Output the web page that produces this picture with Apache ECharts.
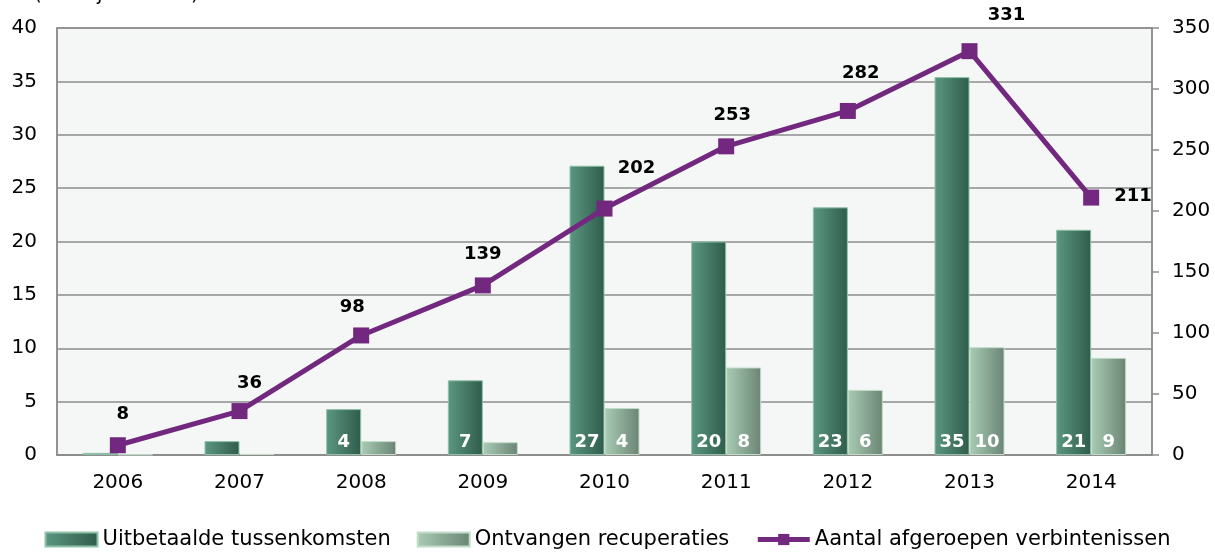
<!DOCTYPE html>
<html>
<head>
<meta charset="utf-8">
<script src="https://cdn.jsdelivr.net/npm/echarts@6/dist/echarts.min.js"></script>
<style>
  html, body { margin: 0; padding: 0; background: #fff; }
  #chart { width: 1215px; height: 553px; }
</style>
</head>
<body>
<div id="chart"></div>
<script>
// data
var years = ['2006', '2007', '2008', '2009', '2010', '2011', '2012', '2013', '2014'];
var uitbetaald = [0.2, 1.3, 4.3, 7.0, 27.1, 20.0, 23.2, 35.4, 21.1];
var ontvangen = [0.05, 0.1, 1.3, 1.2, 4.4, 8.2, 6.1, 10.1, 9.1];
var verbintenissen = [8, 36, 98, 139, 202, 253, 282, 331, 211];
var leftTicks = { min: 0, max: 40, interval: 5 };
var rightTicks = { min: 0, max: 350, interval: 50 };

var fontFam = 'DejaVu Sans, Verdana, sans-serif';
var purple = '#73287f';
// verschuiving van de lijnlabels (px), zoals in het origineel
var labelShift = [[5, 2], [10, 5], [-9, 5], [0, 2], [32, -7], [6, 2], [13, -5], [37, -3], null];

// label in de balk, enkel vanaf 4
function barLabel(p) {
    return p.value >= 4 ? Math.round(p.value) : '';
}

function lineData() {
    return verbintenissen.map(function (v, i) {
        if (!labelShift[i]) {
            // laatste punt: label rechts
            return { value: v, label: { position: 'right', distance: 15, offset: [0, -1] } };
        }
        return { value: v, label: { offset: labelShift[i] } };
    });
}

var myChart = echarts.init(document.getElementById('chart'));

var option = {
    animation: false,
    textStyle: { fontFamily: fontFam },
    graphic: [{
        type: 'text',
        left: 34,
        top: -15,
        style: { text: '(in miljoen euro)', font: '20px ' + fontFam, fill: '#000' }
    }],
    grid: {
        left: 57,
        right: 63,
        top: 28,
        bottom: 98,
        show: true,
        backgroundColor: '#f5f7f6',
        borderColor: '#8c8c8c',
        borderWidth: 1.5
    },
    legend: {
        bottom: -2,
        left: 'center',
        itemGap: 26,
        itemWidth: 52,
        itemHeight: 14,
        textStyle: { fontSize: 21, color: '#000', fontFamily: fontFam },
        data: [
            { name: 'Uitbetaalde tussenkomsten', icon: 'rect' },
            { name: 'Ontvangen recuperaties', icon: 'rect' },
            { name: 'Aantal afgeroepen verbintenissen', lineStyle: { width: 5, color: purple } }
        ]
    },
    xAxis: {
        type: 'category',
        data: years,
        axisLine: { show: true, lineStyle: { color: '#8c8c8c', width: 1.5 } },
        axisTick: { show: false },
        axisLabel: { fontSize: 20, color: '#000', margin: 18 }
    },
    yAxis: [
        {
            type: 'value',
            min: leftTicks.min,
            max: leftTicks.max,
            interval: leftTicks.interval,
            axisLine: { show: true, lineStyle: { color: '#8c8c8c', width: 1.5 } },
            axisTick: { show: false },
            axisLabel: { fontSize: 20, color: '#000', margin: 20 },
            splitLine: { lineStyle: { color: '#8c8c8c', width: 1.5 } }
        },
        {
            type: 'value',
            min: rightTicks.min,
            max: rightTicks.max,
            interval: rightTicks.interval,
            axisLine: { show: true, lineStyle: { color: '#8c8c8c', width: 1.5 } },
            axisTick: { show: true, length: 7, lineStyle: { color: '#8c8c8c', width: 1.5 } },
            axisLabel: { fontSize: 20, color: '#000', margin: 20 },
            splitLine: { show: false }
        }
    ],
    series: [
        {
            name: 'Uitbetaalde tussenkomsten',
            type: 'bar',
            data: uitbetaald,
            barWidth: 35,
            barGap: '0%',
            itemStyle: {
                color: new echarts.graphic.LinearGradient(0, 0, 1, 0, [
                    { offset: 0, color: '#5b9782' },
                    { offset: 1, color: '#2f5c4a' }
                ]),
                borderColor: '#8fc1a8',
                borderWidth: 1
            },
            label: {
                show: true,
                position: 'insideBottom',
                distance: 4,
                color: '#fff',
                fontWeight: 'bold',
                fontSize: 18,
                formatter: barLabel
            }
        },
        {
            name: 'Ontvangen recuperaties',
            type: 'bar',
            data: ontvangen,
            barWidth: 35,
            barGap: '0%',
            itemStyle: {
                color: new echarts.graphic.LinearGradient(0, 0, 1, 0, [
                    { offset: 0, color: '#a9ccb4' },
                    { offset: 1, color: '#6a8474' }
                ]),
                borderColor: '#c2dcc9',
                borderWidth: 1
            },
            label: {
                show: true,
                position: 'insideBottom',
                distance: 4,
                color: '#fff',
                fontWeight: 'bold',
                fontSize: 18,
                formatter: barLabel
            }
        },
        {
            name: 'Aantal afgeroepen verbintenissen',
            type: 'line',
            yAxisIndex: 1,
            data: lineData(),
            symbol: 'rect',
            symbolSize: 16,
            lineStyle: { color: purple, width: 5 },
            itemStyle: { color: purple },
            label: {
                show: true,
                position: 'top',
                distance: 16,
                color: '#000',
                fontWeight: 'bold',
                fontSize: 18
            },
            z: 5
        }
    ]
};

myChart.setOption(option);
</script>
</body>
</html>
